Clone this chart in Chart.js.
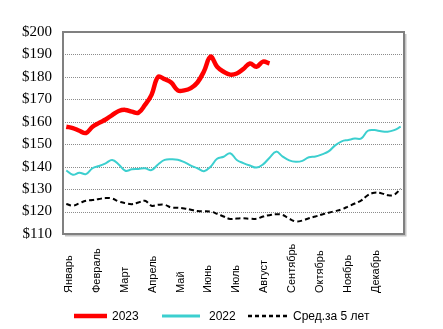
<!DOCTYPE html>
<html>
<head>
<meta charset="utf-8">
<script src="https://cdn.jsdelivr.net/npm/chart.js@4"></script>
<style>
  html, body { margin: 0; padding: 0; background: #fff; }
  #wrap { width: 443px; height: 329px; position: relative; }
</style>
</head>
<body>
<div id="wrap"><canvas id="priceChart"></canvas></div>
<script>
const months = ['Январь', 'Февраль', 'Март', 'Апрель', 'Май', 'Июнь',
  'Июль', 'Август', 'Сентябрь', 'Октябрь', 'Ноябрь', 'Декабрь'];

const seriesNames = ['2023', '2022', 'Сред.за 5 лет'];

// weekly prices, $
const prices2023 = [157.8, 157.2, 156.0, 155.0, 157.8, 159.5, 161.0, 163.0, 164.8, 165.3,
  164.5, 164.0, 167.5, 172.0, 180.0, 179.0, 177.5, 174.0, 174.0, 175.0,
  177.5, 182.5, 189.0, 184.5, 182.3, 181.0, 181.5, 183.5, 186.0, 184.5,
  186.8, 186.0];

const prices2022 = [138.3, 136.4, 137.3, 136.7, 139.3, 140.3, 141.5, 143.0, 141.0, 138.2,
  138.8, 139.0, 139.3, 138.5, 141.0, 143.0, 143.3, 143.1, 142.0, 140.5,
  139.3, 138.0, 140.0, 143.5, 144.4, 146.0, 143.0, 141.6, 140.5, 139.6,
  141.0, 144.0, 146.7, 144.5, 142.8, 142.2, 142.6, 144.2, 144.5, 145.5,
  146.8, 149.5, 151.3, 151.9, 152.5, 152.6, 156.0, 156.3, 155.8, 155.6,
  156.3, 157.8];

const avg5y = [123.4, 122.6, 123.7, 124.8, 125.1, 125.6, 126.0, 125.8, 124.5, 123.8,
  123.3, 124.0, 124.8, 122.6, 123.0, 123.0, 121.8, 121.7, 121.4, 120.8,
  120.2, 120.2, 120.0, 119.0, 117.8, 116.7, 116.9, 117.0, 116.8, 116.8,
  117.8, 118.4, 118.8, 118.5, 116.8, 115.6, 116.0, 117.0, 117.8, 118.7,
  119.5, 120.2, 121.0, 122.3, 123.6, 125.0, 127.3, 128.4, 128.2, 127.3,
  127.5, 130.2];

const WEEKS = 52;
const colors = ['#ff0000', '#3ccfcf', '#000000'];

const toPoints = arr => arr.map((v, i) => ({ x: i + 0.5, y: v }));

// dotted grid + dollar labels, placed from the y scale
const yAxisDraw = {
  id: 'yAxisDraw',
  beforeDatasetsDraw(chart) {
    const { ctx, chartArea: a } = chart;
    const ys = chart.scales.y;
    ctx.save();
    ctx.strokeStyle = '#8c8c8c';
    ctx.lineWidth = 1;
    ctx.setLineDash([1, 1]);
    ys.ticks.forEach(t => {
      if (t.value <= ys.min || t.value >= ys.max) return;
      const py = Math.round(ys.getPixelForValue(t.value)) + 0.5;
      ctx.beginPath();
      ctx.moveTo(a.left, py);
      ctx.lineTo(a.right, py);
      ctx.stroke();
    });
    ctx.restore();
  },
  afterDraw(chart) {
    const ctx = chart.ctx;
    const ys = chart.scales.y;
    ctx.save();
    ctx.font = '15px Liberation Serif';
    ctx.fillStyle = '#000';
    ctx.textAlign = 'right';
    ctx.textBaseline = 'middle';
    ys.ticks.forEach(t => {
      ctx.fillText('$' + t.value, ys.right - 11, ys.getPixelForValue(t.value));
    });
    ctx.restore();
  }
};

// month labels, rotated, start-aligned at the bottom
const monthLabels = {
  id: 'monthLabels',
  afterDraw(chart) {
    const ctx = chart.ctx;
    const xs = chart.scales.x;
    ctx.save();
    ctx.font = '11px Liberation Sans';
    ctx.fillStyle = '#000';
    ctx.textAlign = 'left';
    ctx.textBaseline = 'middle';
    months.forEach((m, k) => {
      const px = xs.getPixelForValue(0.9 + k * 4.255);
      ctx.save();
      ctx.translate(px, 293);
      ctx.rotate(-Math.PI / 2);
      ctx.fillText(m, 0, 0);
      ctx.restore();
    });
    ctx.restore();
  }
};

const frame = {
  id: 'frame',
  afterDatasetsDraw(chart) {
    const { ctx, chartArea: a } = chart;
    ctx.save();
    ctx.strokeStyle = '#c4c4c4';
    ctx.lineWidth = 2;
    ctx.beginPath();
    ctx.moveTo(a.right + 1.5, a.top + 2);
    ctx.lineTo(a.right + 1.5, a.bottom + 1.5);
    ctx.lineTo(a.left + 2, a.bottom + 1.5);
    ctx.stroke();
    ctx.strokeStyle = '#808080';
    ctx.lineWidth = 2;
    ctx.strokeRect(a.left, a.top, a.right - a.left, a.bottom - a.top);
    ctx.restore();
  }
};

const legendLines = {
  id: 'legendLines',
  afterDraw(chart) {
    const ctx = chart.ctx;
    const y = 316;
    const items = [
      { x1: 74, x2: 107, tx: 112, w: 4.5, dash: [] },
      { x1: 162, x2: 200, tx: 209, w: 3, dash: [] },
      { x1: 248, x2: 289, tx: 293, w: 2.5, dash: [4, 3] }
    ];
    ctx.save();
    ctx.font = '12px Liberation Sans';
    ctx.textBaseline = 'middle';
    items.forEach((it, i) => {
      ctx.strokeStyle = colors[i];
      ctx.lineWidth = it.w;
      ctx.setLineDash(it.dash);
      ctx.beginPath();
      ctx.moveTo(it.x1, y);
      ctx.lineTo(it.x2, y);
      ctx.stroke();
      ctx.fillStyle = '#000';
      ctx.fillText(seriesNames[i], it.tx, y + 1);
    });
    ctx.restore();
  }
};

new Chart(document.getElementById('priceChart'), {
  type: 'line',
  data: {
    datasets: [
      { label: seriesNames[0], data: toPoints(prices2023), borderColor: colors[0], borderWidth: 4.5, tension: 0.4 },
      { label: seriesNames[1], data: toPoints(prices2022), borderColor: colors[1], borderWidth: 2, tension: 0.4 },
      { label: seriesNames[2], data: toPoints(avg5y), borderColor: colors[2], borderWidth: 2, borderDash: [5, 3], tension: 0.4 }
    ]
  },
  options: {
    responsive: true,
    maintainAspectRatio: false,
    animation: false,
    layout: { padding: { top: 32, right: 39, left: 0, bottom: 0 } },
    elements: { point: { radius: 0 } },
    plugins: { legend: { display: false }, tooltip: { enabled: false } },
    scales: {
      x: {
        type: 'linear',
        min: 0,
        max: WEEKS,
        grid: { display: false },
        border: { display: false },
        ticks: { display: false },
        afterFit(scale) { scale.height = 95; }
      },
      y: {
        min: 110,
        max: 200,
        ticks: { stepSize: 10, display: false },
        grid: { display: false },
        border: { display: false },
        afterFit(scale) { scale.width = 63; }
      }
    }
  },
  plugins: [yAxisDraw, frame, monthLabels, legendLines]
});
</script>
</body>
</html>
